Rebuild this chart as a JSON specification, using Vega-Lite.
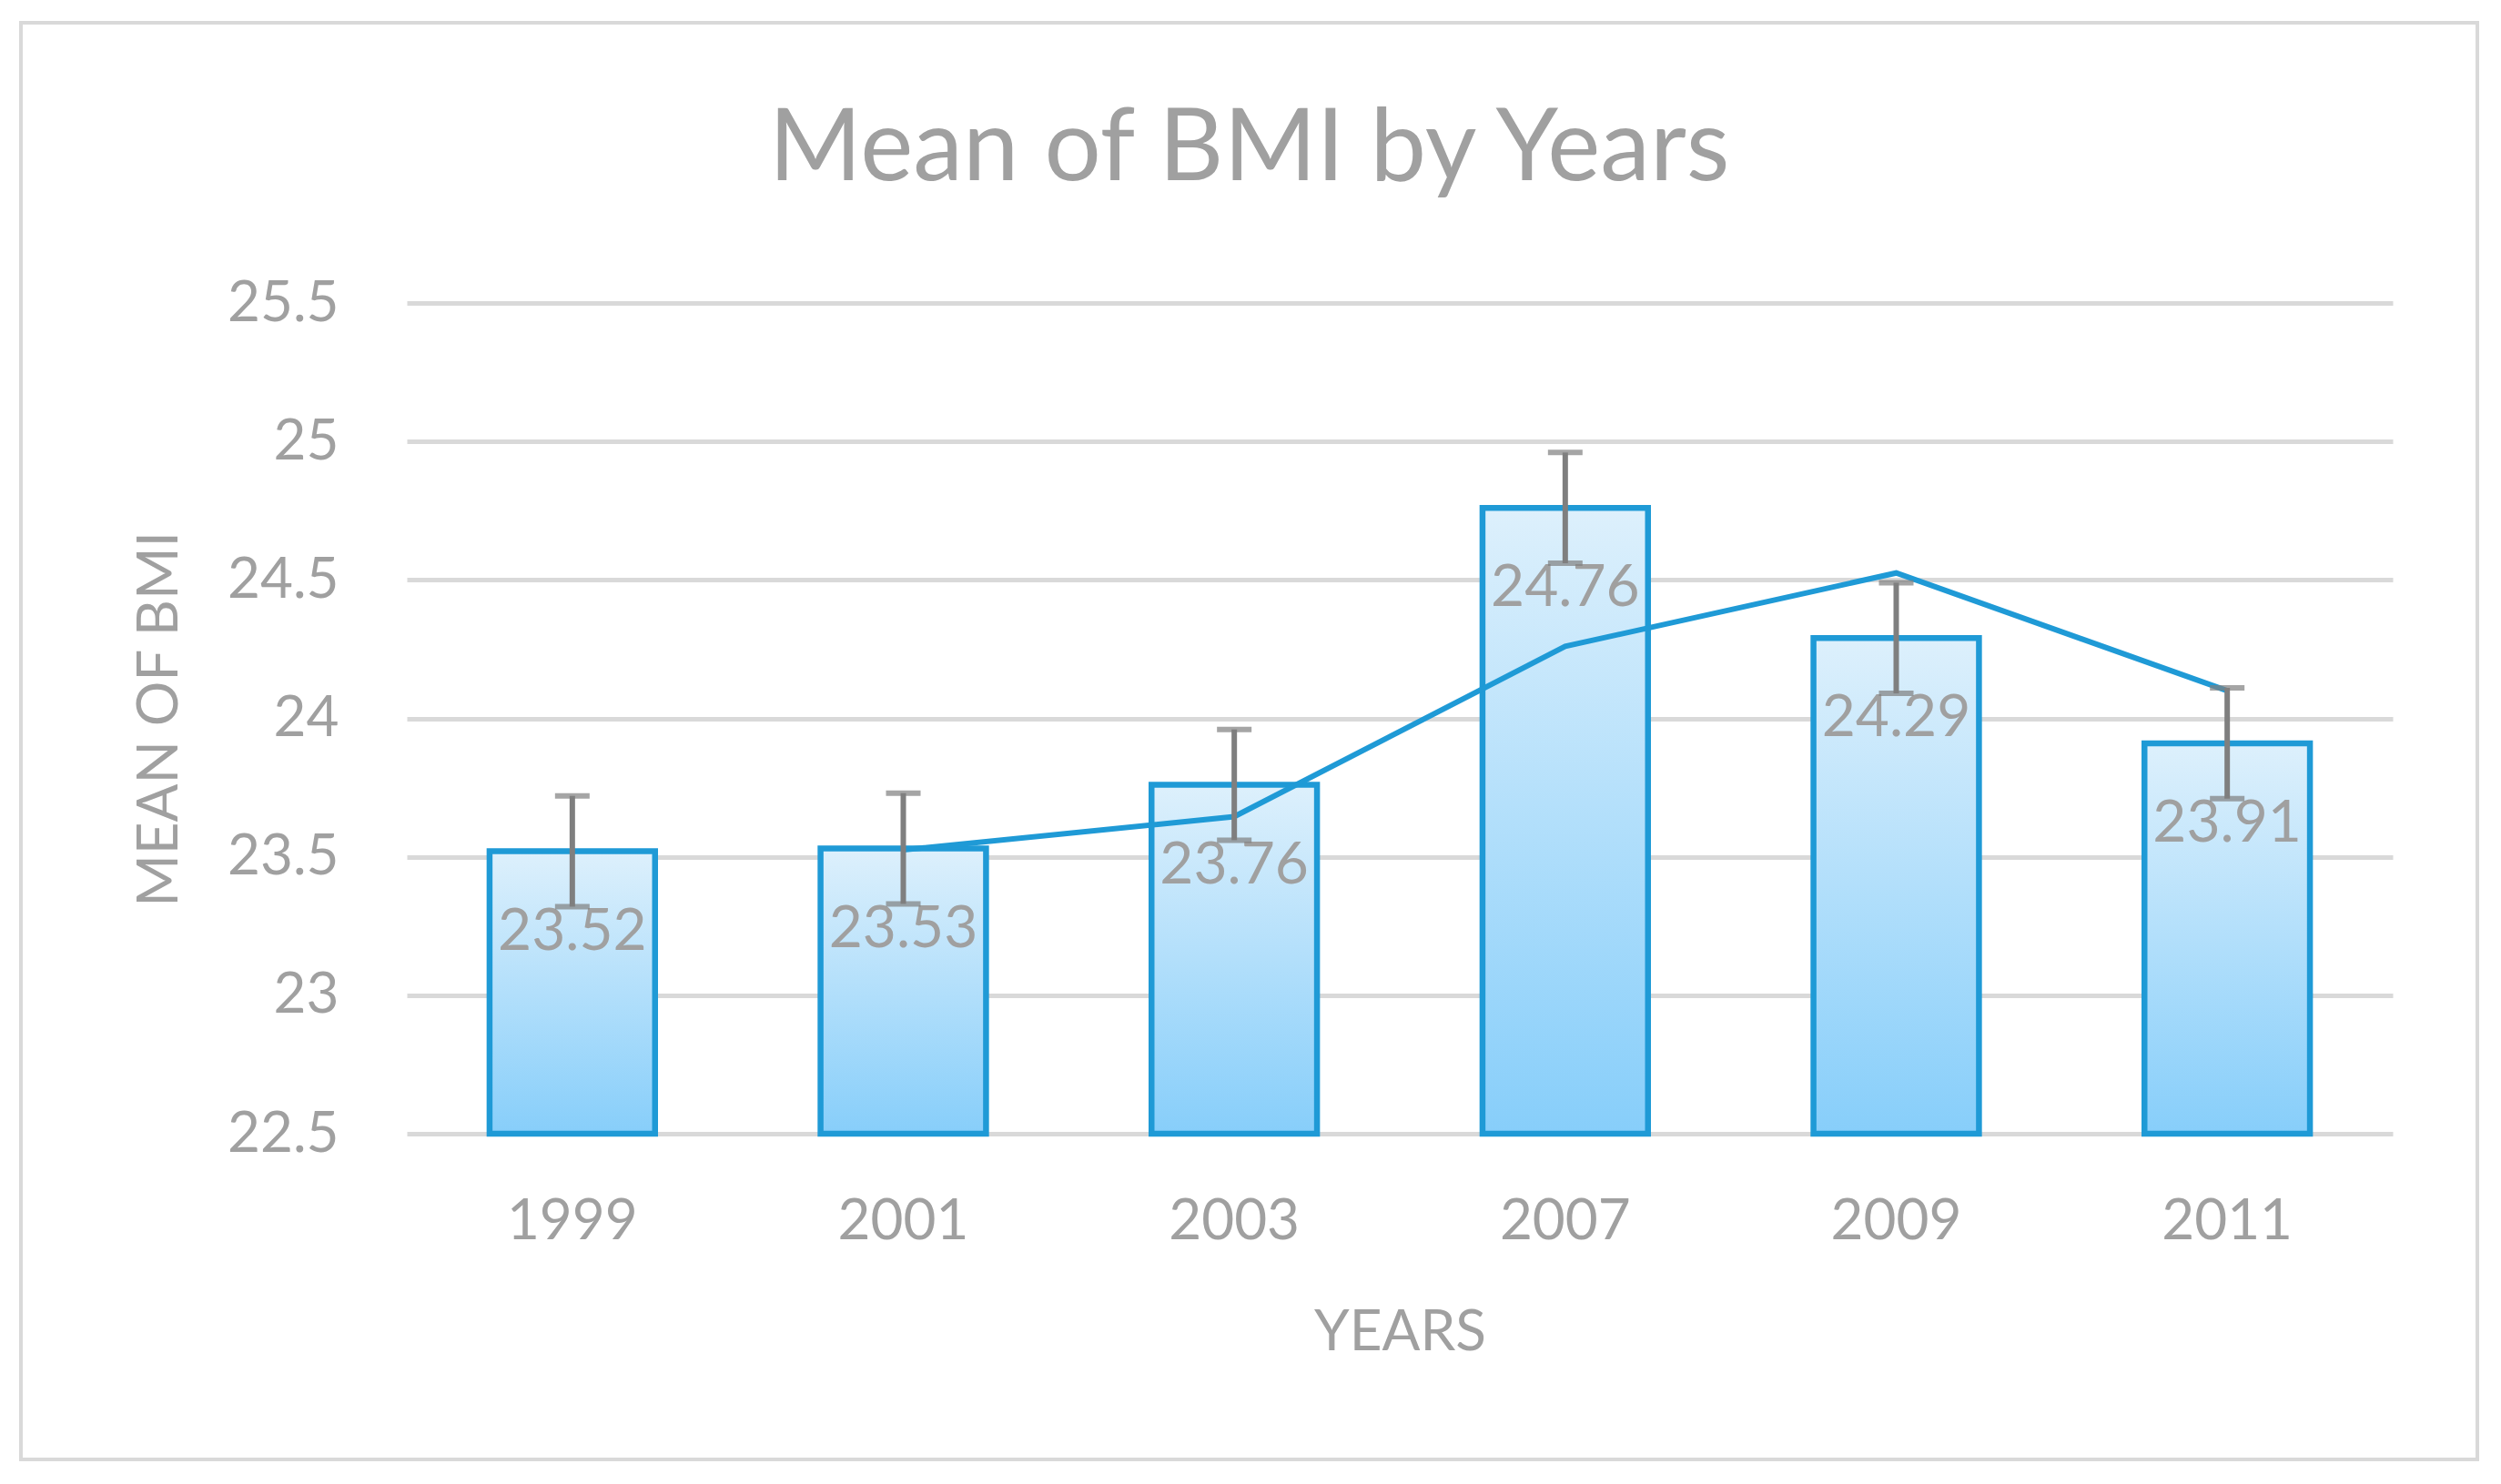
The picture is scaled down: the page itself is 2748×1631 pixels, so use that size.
{
  "$schema": "https://vega.github.io/schema/vega-lite/v6.json",
  "autosize": {"type": "none"},
  "padding": {"left": 23, "top": 25, "right": 26, "bottom": 27},
  "width": 2699,
  "height": 1579,
  "background": "white",
  "config": {
    "view": {"stroke": "#D9D9D9", "strokeWidth": 4},
    "font": "Lato"
  },
  "title": {
    "text": "Mean of BMI by Years",
    "font": "Lato",
    "fontSize": 110,
    "fontWeight": "normal",
    "color": "#A0A0A0",
    "anchor": "middle",
    "frame": "group",
    "baseline": "alphabetic",
    "offset": -283
  },
  "data": {
    "values": [
      {"year": "1999", "mean": 23.52, "lo": 23.32, "hi": 23.72, "ma": null},
      {"year": "2001", "mean": 23.53, "lo": 23.33, "hi": 23.73, "ma": 23.525},
      {"year": "2003", "mean": 23.76, "lo": 23.56, "hi": 23.96, "ma": 23.645},
      {"year": "2007", "mean": 24.76, "lo": 24.56, "hi": 24.96, "ma": 24.26},
      {"year": "2009", "mean": 24.29, "lo": 24.09, "hi": 24.49, "ma": 24.525},
      {"year": "2011", "mean": 23.91, "lo": 23.71, "hi": 24.11, "ma": 24.10}
    ]
  },
  "encoding": {
    "x": {
      "field": "year",
      "type": "nominal",
      "sort": null,
      "scale": {"range": [424, 2606], "paddingInner": 0.5, "paddingOuter": 0.25},
      "axis": {
        "offset": -358,
        "domain": false,
        "ticks": false,
        "tickSize": 0,
        "grid": false,
        "labelAngle": 0,
        "labelFont": "Lato",
        "labelFontSize": 62,
        "labelColor": "#A0A0A0",
        "labelPadding": 66,
        "title": "YEARS",
        "titleFont": "Lato",
        "titleFontSize": 62,
        "titleFontWeight": "normal",
        "titleColor": "#A0A0A0",
        "titleBaseline": "alphabetic",
        "titleY": 237
      }
    }
  },
  "layer": [
    {
      "mark": {
        "type": "bar",
        "fill": {
          "gradient": "linear",
          "x1": 0, "y1": 0, "x2": 0, "y2": 1,
          "stops": [
            {"offset": 0, "color": "#DDF0FC"},
            {"offset": 1, "color": "#87CEFA"}
          ]
        },
        "stroke": "#1F9AD6",
        "strokeWidth": 6.5
      },
      "encoding": {
        "y": {
          "field": "mean",
          "type": "quantitative",
          "scale": {"domain": [22.5, 25.5], "range": [1221, 308], "zero": false, "nice": false},
          "axis": {
            "offset": -424,
            "domain": false,
            "ticks": false,
            "tickSize": 0,
            "grid": true,
            "gridColor": "#D9D9D9",
            "gridWidth": 5,
            "values": [22.5, 23, 23.5, 24, 24.5, 25, 25.5],
            "format": "~g",
            "labelFont": "Lato",
            "labelFontSize": 62,
            "labelColor": "#A0A0A0",
            "labelPadding": 75,
            "title": "MEAN OF BMI",
            "titleFont": "Lato",
            "titleFontSize": 62,
            "titleFontWeight": "normal",
            "titleColor": "#A0A0A0",
            "titleAngle": 270,
            "titleBaseline": "middle",
            "titleX": -272,
            "titleY": 765
          }
        },
        "y2": {"datum": 22.5}
      }
    },
    {
      "transform": [{"filter": "datum.ma != null"}],
      "mark": {"type": "line", "color": "#1F9AD6", "strokeWidth": 6},
      "encoding": {
        "y": {"field": "ma", "type": "quantitative"}
      }
    },
    {
      "mark": {"type": "text", "font": "Lato", "fontSize": 64, "color": "#A0A0A0", "baseline": "middle", "dy": 89},
      "encoding": {
        "y": {"field": "mean", "type": "quantitative"},
        "text": {"field": "mean", "type": "quantitative", "format": ".2f"}
      }
    },
    {
      "mark": {"type": "rule", "color": "#7F7F7F", "strokeWidth": 6},
      "encoding": {
        "y": {"field": "lo", "type": "quantitative"},
        "y2": {"field": "hi"}
      }
    },
    {
      "mark": {"type": "tick", "color": "#7F7F7F", "thickness": 6, "size": 38},
      "encoding": {
        "y": {"field": "lo", "type": "quantitative"}
      }
    },
    {
      "mark": {"type": "tick", "color": "#7F7F7F", "thickness": 6, "size": 38},
      "encoding": {
        "y": {"field": "hi", "type": "quantitative"}
      }
    }
  ]
}
